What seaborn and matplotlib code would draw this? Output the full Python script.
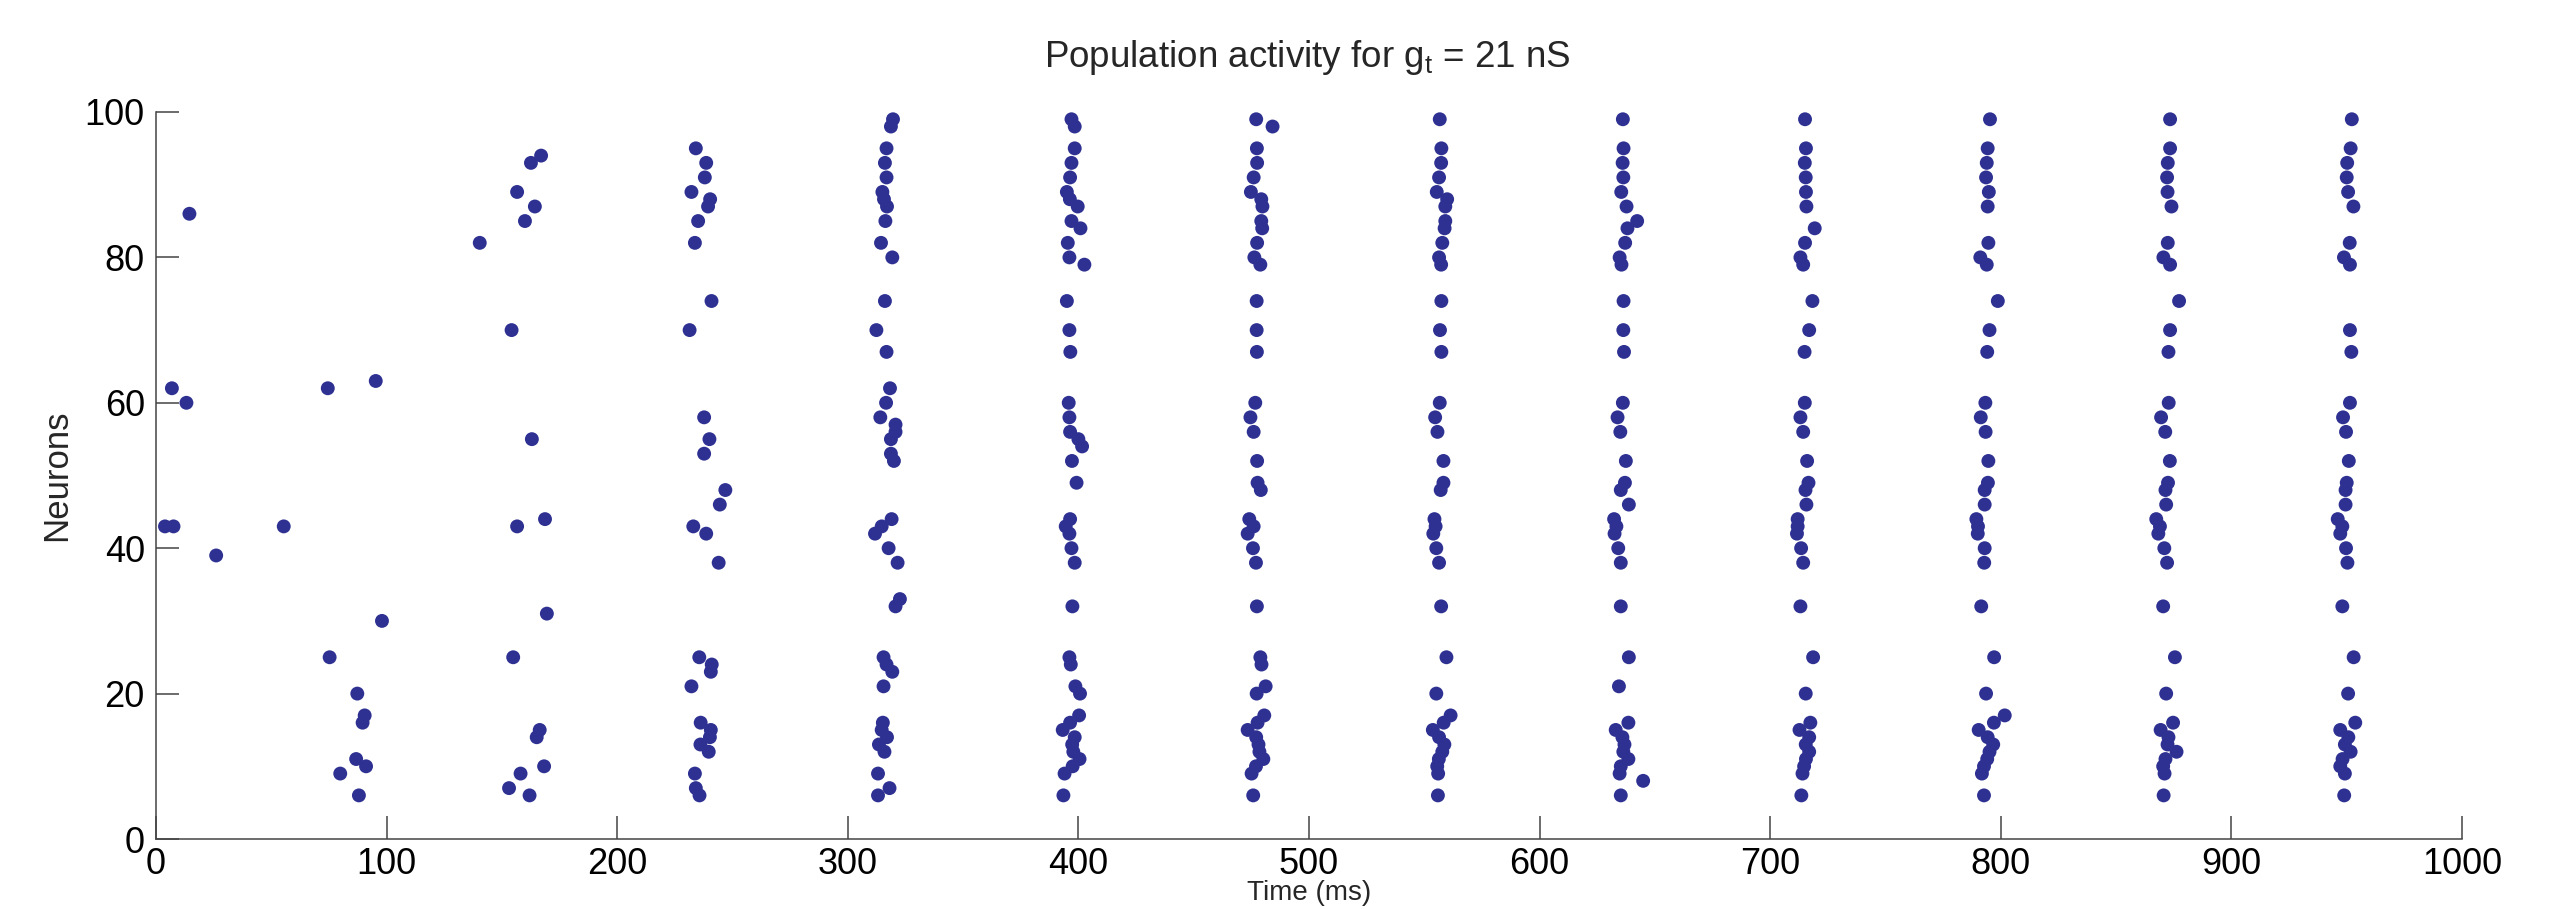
import matplotlib
matplotlib.use('Agg')
import matplotlib.pyplot as plt
import seaborn as sns
import pandas as pd

# --- spike raster data, one pair of lists per population burst ---
t_burst0 = [14.5, 6.9, 13.2, 74.5, 95.3, 3.9, 7.6, 55.4, 26.1, 98.0, 75.3, 87.3, 90.5, 89.6, 86.8, 91.1, 79.9, 88.0]
n_burst0 = [86, 62, 60, 62, 63, 43, 43, 43, 39, 30, 25, 20, 17, 16, 11, 10, 9, 6]

t_burst1 = [167.0, 162.6, 156.6, 164.3, 160.0, 140.4, 154.2, 163.0, 168.7, 156.6, 169.5, 154.9, 166.4, 165.1, 168.3, 158.1, 153.1, 162.0]
n_burst1 = [94, 93, 89, 87, 85, 82, 70, 55, 44, 43, 31, 25, 15, 14, 10, 9, 7, 6]

t_burst2 = [234.1, 238.6, 238.0, 232.2, 240.3, 239.4, 235.1, 233.7, 240.9, 231.4, 237.7, 240.0, 237.7, 246.9,
            244.5, 233.0, 238.6, 244.0, 235.6, 241.0, 240.6, 232.2, 236.2, 240.6, 240.2, 236.1, 239.7, 233.7,
            234.1, 235.7]
n_burst2 = [95, 93, 91, 89, 88, 87, 85, 82, 74, 70, 58, 55, 53, 48, 46, 43, 42, 38, 25, 24, 23, 21, 16, 15, 14,
            13, 12, 9, 7, 6]

t_burst3 = [319.6, 318.7, 316.8, 316.1, 316.8, 315.0, 315.7, 317.0, 316.3, 314.4, 319.3, 316.1, 312.4, 316.8,
            318.3, 316.6, 314.1, 320.7, 320.7, 318.7, 318.7, 320.0, 319.0, 314.7, 311.8, 317.7, 321.6, 322.6,
            320.7, 315.5, 316.8, 319.3, 315.5, 315.2, 314.7, 317.0, 313.5, 315.9, 313.1, 318.1, 313.1]
n_burst3 = [99, 98, 95, 93, 91, 89, 88, 87, 85, 82, 80, 74, 70, 67, 62, 60, 58, 57, 56, 55, 53, 52, 44, 43, 42,
            40, 38, 33, 32, 25, 24, 23, 21, 16, 15, 14, 13, 12, 9, 7, 6]

t_burst4 = [397.0, 398.4, 398.4, 397.0, 396.4, 395.0, 396.3, 399.7, 397.0, 400.9, 395.4, 396.1, 402.6, 395.0,
            396.1, 396.5, 395.8, 396.1, 396.4, 400.0, 401.6, 397.2, 399.2, 396.4, 394.5, 396.1, 397.0, 398.4,
            397.4, 396.1, 396.7, 398.7, 400.7, 400.3, 396.4, 393.2, 398.4, 397.3, 397.8, 400.5, 397.5, 394.0,
            393.5]
n_burst4 = [99, 98, 95, 93, 91, 89, 88, 87, 85, 84, 82, 80, 79, 74, 70, 67, 60, 58, 56, 55, 54, 52, 49, 44, 43,
            42, 40, 38, 32, 25, 24, 21, 20, 17, 16, 15, 14, 13, 12, 11, 10, 9, 6]

t_burst5 = [477.1, 484.2, 477.4, 477.5, 476.0, 474.8, 479.3, 479.8, 479.3, 479.7, 477.5, 476.3, 478.9, 477.3,
            477.3, 477.4, 476.7, 474.6, 476.0, 477.5, 477.7, 479.1, 474.1, 476.0, 473.4, 475.7, 477.0, 477.4,
            478.9, 479.4, 481.2, 477.3, 480.6, 477.7, 473.4, 477.1, 478.1, 478.5, 480.2, 477.0, 475.1, 475.8]
n_burst5 = [99, 98, 95, 93, 91, 89, 88, 87, 85, 84, 82, 80, 79, 74, 70, 67, 60, 58, 56, 52, 49, 48, 44, 43, 42,
            40, 38, 32, 25, 24, 21, 20, 17, 16, 15, 14, 13, 12, 11, 10, 9, 6]

t_burst6 = [556.7, 557.4, 557.3, 556.4, 555.4, 559.9, 559.1, 559.1, 558.8, 557.8, 556.4, 557.3, 557.4, 556.8,
            557.4, 556.7, 554.7, 555.7, 558.3, 558.3, 557.1, 554.4, 554.9, 553.9, 555.2, 556.4, 557.3, 559.6,
            555.2, 561.4, 558.4, 553.7, 556.4, 558.7, 557.8, 556.3, 555.6, 556.0, 555.9]
n_burst6 = [99, 95, 93, 91, 89, 88, 87, 85, 84, 82, 80, 79, 74, 70, 67, 60, 58, 56, 52, 49, 48, 44, 43, 42, 40,
            38, 32, 25, 20, 17, 16, 15, 14, 13, 12, 11, 10, 9, 6]

t_burst7 = [636.1, 636.4, 636.0, 636.3, 635.4, 637.7, 642.3, 638.1, 637.1, 634.7, 635.5, 636.4, 636.3, 636.6,
            636.1, 633.8, 635.0, 637.4, 637.0, 635.2, 638.7, 632.3, 633.3, 632.5, 634.1, 635.2, 635.2, 638.7,
            634.4, 638.5, 633.0, 635.9, 636.8, 636.3, 638.5, 635.2, 634.7, 644.9, 635.2]
n_burst7 = [99, 95, 93, 91, 89, 87, 85, 84, 82, 80, 79, 74, 70, 67, 60, 58, 56, 52, 49, 48, 46, 44, 43, 42, 40,
            38, 32, 25, 21, 16, 15, 14, 13, 12, 11, 10, 9, 8, 6]

t_burst8 = [715.1, 715.5, 715.0, 715.4, 715.5, 715.7, 719.3, 715.1, 713.1, 714.3, 718.3, 716.9, 714.9, 715.0,
            713.1, 714.3, 716.0, 716.6, 715.3, 715.7, 711.9, 711.9, 711.6, 713.4, 714.3, 713.1, 718.6, 715.4,
            717.4, 712.7, 716.9, 715.4, 716.9, 715.5, 714.7, 714.0, 713.5]
n_burst8 = [99, 95, 93, 91, 89, 87, 84, 82, 80, 79, 74, 70, 67, 60, 58, 56, 52, 49, 48, 46, 44, 43, 42, 40, 38,
            32, 25, 20, 16, 15, 14, 13, 12, 11, 10, 9, 6]

t_burst9 = [795.3, 794.3, 793.9, 793.6, 794.8, 794.3, 794.6, 791.1, 793.9, 798.7, 795.1, 794.1, 793.3, 791.3,
            793.4, 794.6, 794.4, 793.0, 793.0, 789.4, 790.1, 790.0, 793.0, 792.8, 791.5, 797.1, 793.6, 801.7,
            797.0, 790.4, 794.3, 796.7, 795.1, 794.1, 792.7, 791.8, 792.7]
n_burst9 = [99, 95, 93, 91, 89, 87, 82, 80, 79, 74, 70, 67, 60, 58, 56, 52, 49, 48, 46, 44, 43, 42, 40, 38, 32,
            25, 20, 17, 16, 15, 14, 13, 12, 11, 10, 9, 6]

t_burst10 = [873.4, 873.4, 872.4, 872.1, 872.3, 874.0, 872.4, 870.5, 873.4, 877.3, 873.4, 872.7, 872.8, 869.5,
             871.3, 873.3, 872.5, 871.4, 871.7, 867.4, 869.0, 868.3, 870.9, 872.1, 870.4, 875.5, 871.7, 874.7,
             869.3, 872.7, 872.3, 876.2, 871.4, 870.4, 871.0, 870.6]
n_burst10 = [99, 95, 93, 91, 89, 87, 82, 80, 79, 74, 70, 67, 60, 58, 56, 52, 49, 48, 46, 44, 43, 42, 40, 38, 32,
             25, 20, 16, 15, 14, 13, 12, 11, 10, 9, 6]

t_burst11 = [952.2, 951.7, 950.2, 950.0, 950.6, 952.9, 951.3, 948.8, 951.4, 951.4, 952.0, 951.4, 948.4, 949.7,
             950.9, 950.0, 949.5, 949.5, 946.1, 948.1, 947.2, 949.7, 950.3, 948.1, 953.0, 950.6, 953.7, 947.2,
             950.7, 949.2, 951.7, 948.2, 947.2, 949.2, 948.9]
n_burst11 = [99, 95, 93, 91, 89, 87, 82, 80, 79, 70, 67, 60, 58, 56, 52, 49, 48, 46, 44, 43, 42, 40, 38, 32, 25,
             20, 16, 15, 14, 13, 12, 11, 10, 9, 6]

X_TICKS = [0, 100, 200, 300, 400, 500, 600, 700, 800, 900, 1000]
Y_TICKS = [0, 20, 40, 60, 80, 100]
DOT_COLOR = '#2e3192'


def build_frame():
    bursts = [
        (t_burst0, n_burst0), (t_burst1, n_burst1), (t_burst2, n_burst2), (t_burst3, n_burst3),
        (t_burst4, n_burst4), (t_burst5, n_burst5), (t_burst6, n_burst6), (t_burst7, n_burst7),
        (t_burst8, n_burst8), (t_burst9, n_burst9), (t_burst10, n_burst10), (t_burst11, n_burst11),
    ]
    frames = [pd.DataFrame({'time': t, 'neuron': n}) for t, n in bursts]
    return pd.concat(frames, ignore_index=True)


def main():
    sns.set_style('white')
    plt.rcParams['font.family'] = ['Liberation Sans', 'DejaVu Sans']
    plt.rcParams['mathtext.fontset'] = 'custom'
    plt.rcParams['mathtext.rm'] = 'Liberation Sans'
    plt.rcParams['mathtext.it'] = 'Liberation Sans'

    df = build_frame()

    fig = plt.figure(figsize=(25.74, 9.09), dpi=100)
    ax = fig.add_axes([0.0606, 0.077, 0.8959, 0.7998])

    sns.scatterplot(data=df, x='time', y='neuron', color=DOT_COLOR, s=100,
                    edgecolor='none', linewidth=0, ax=ax)

    ax.set_xlim(0, 1000)
    ax.set_ylim(0, 100)
    ax.set_xticks(X_TICKS)
    ax.set_yticks(Y_TICKS)
    ax.tick_params(direction='in', length=16.5, width=1.1, labelsize=26,
                   color='#444444', labelcolor='black', bottom=True, left=True)
    ax.tick_params(axis='y', pad=8)
    ax.tick_params(axis='x', pad=6)

    for side in ['top', 'right']:
        ax.spines[side].set_visible(False)
    for side in ['left', 'bottom']:
        ax.spines[side].set_color('#444444')
        ax.spines[side].set_linewidth(1.1)

    ax.set_xlabel('Time (ms)', fontsize=20)
    ax.xaxis.set_label_coords(0.5, -0.057)
    ax.set_ylabel('Neurons', fontsize=25)
    ax.yaxis.set_label_coords(-0.036, 0.5)

    fig.text(0.508, 0.937, r'Population activity for g$_\mathregular{t}$ = 21 nS',
             ha='center', va='center', fontsize=26.5)

    fig.savefig('out.png', dpi=100)
    plt.close(fig)


if __name__ == '__main__':
    main()
